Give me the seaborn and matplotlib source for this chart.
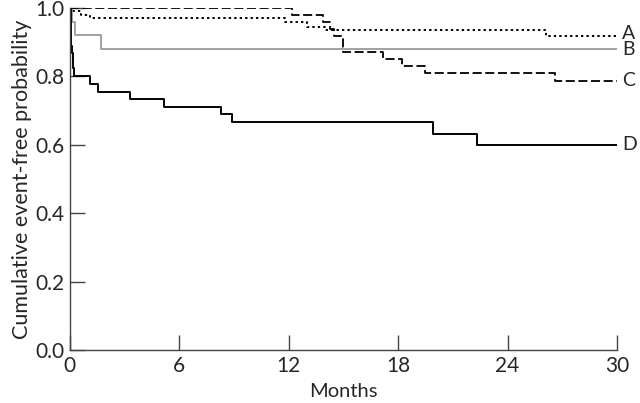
import pandas as pd
import seaborn as sns
import numpy as np
import matplotlib.pyplot as plt

# step data (months, cumulative event-free probability)
A_t = [0, 0.05, 0.6, 1.1, 11.8, 13.0, 14.0, 26.1, 30]
A_s = [1.0, 0.99, 0.98, 0.97, 0.958, 0.945, 0.935, 0.919, 0.919]

B_t = [0, 0.1, 0.3, 1.7, 30]
B_s = [1.0, 0.96, 0.92, 0.88, 0.88]

C_t = [0, 12.2, 13.9, 14.25, 14.5, 15.0, 17.2, 18.2, 19.5, 26.6, 30]
C_s = [1.0, 0.98, 0.958, 0.94, 0.918, 0.872, 0.85, 0.83, 0.81, 0.787, 0.787]

D_t = [0, 0.05, 0.13, 0.2, 0.24, 1.1, 1.55, 3.3, 5.15, 8.27, 8.9, 19.9, 22.3, 30]
D_s = [1.0, 0.89, 0.87, 0.825, 0.80, 0.778, 0.756, 0.733, 0.711, 0.689, 0.667, 0.633, 0.60, 0.60]

groups = ["A", "B", "C", "D"]
x_ticks = [0, 6, 12, 18, 24, 30]
y_ticks = [0.0, 0.2, 0.4, 0.6, 0.8, 1.0]

sns.set_style("ticks")
plt.rcParams['font.family'] = ['Lato', 'DejaVu Sans']

fig = plt.figure(figsize=(6.4, 4.03), dpi=100)
ax = fig.add_axes([0.109, 0.131, 0.855, 0.849])

styles = {
    "A": dict(color="black", linestyle=(0, (1.2, 1.6)), linewidth=1.4),
    "B": dict(color="#9a9a9a", linestyle="-", linewidth=1.3),
    "C": dict(color="black", linestyle=(0, (5, 2)), linewidth=1.3),
    "D": dict(color="black", linestyle="-", linewidth=1.4),
}
data = {"A": (A_t, A_s), "B": (B_t, B_s), "C": (C_t, C_s), "D": (D_t, D_s)}

for g in groups:
    t, s = data[g]
    df = pd.DataFrame({"Months": t, "Prob": s})
    sns.lineplot(data=df, x="Months", y="Prob", ax=ax, drawstyle="steps-post",
                 estimator=None, sort=False, **styles[g])
    ax.text(30.3, s[-1] + (0.008 if g == "A" else 0), g, fontsize=14,
            va="center", ha="left", clip_on=False)

ax.set_xlim(0, 30)
ax.set_ylim(0, 1.0)
ax.set_xticks(x_ticks)
ax.set_xticklabels([str(v) for v in x_ticks])
ax.set_yticks(y_ticks)
ax.set_yticklabels(["%.1f" % v for v in y_ticks])
ax.tick_params(direction="in", length=11, width=1, color="#444444", labelsize=15, pad=4)
ax.set_xlabel("Months", fontsize=14.5, labelpad=5)
ax.set_ylabel("Cumulative event-free probability", fontsize=15.5, labelpad=2)
for side in ["top", "right"]:
    ax.spines[side].set_visible(False)
for side in ["left", "bottom"]:
    ax.spines[side].set_color("#444444")
    ax.spines[side].set_linewidth(1)

plt.savefig("out.png", dpi=100)
